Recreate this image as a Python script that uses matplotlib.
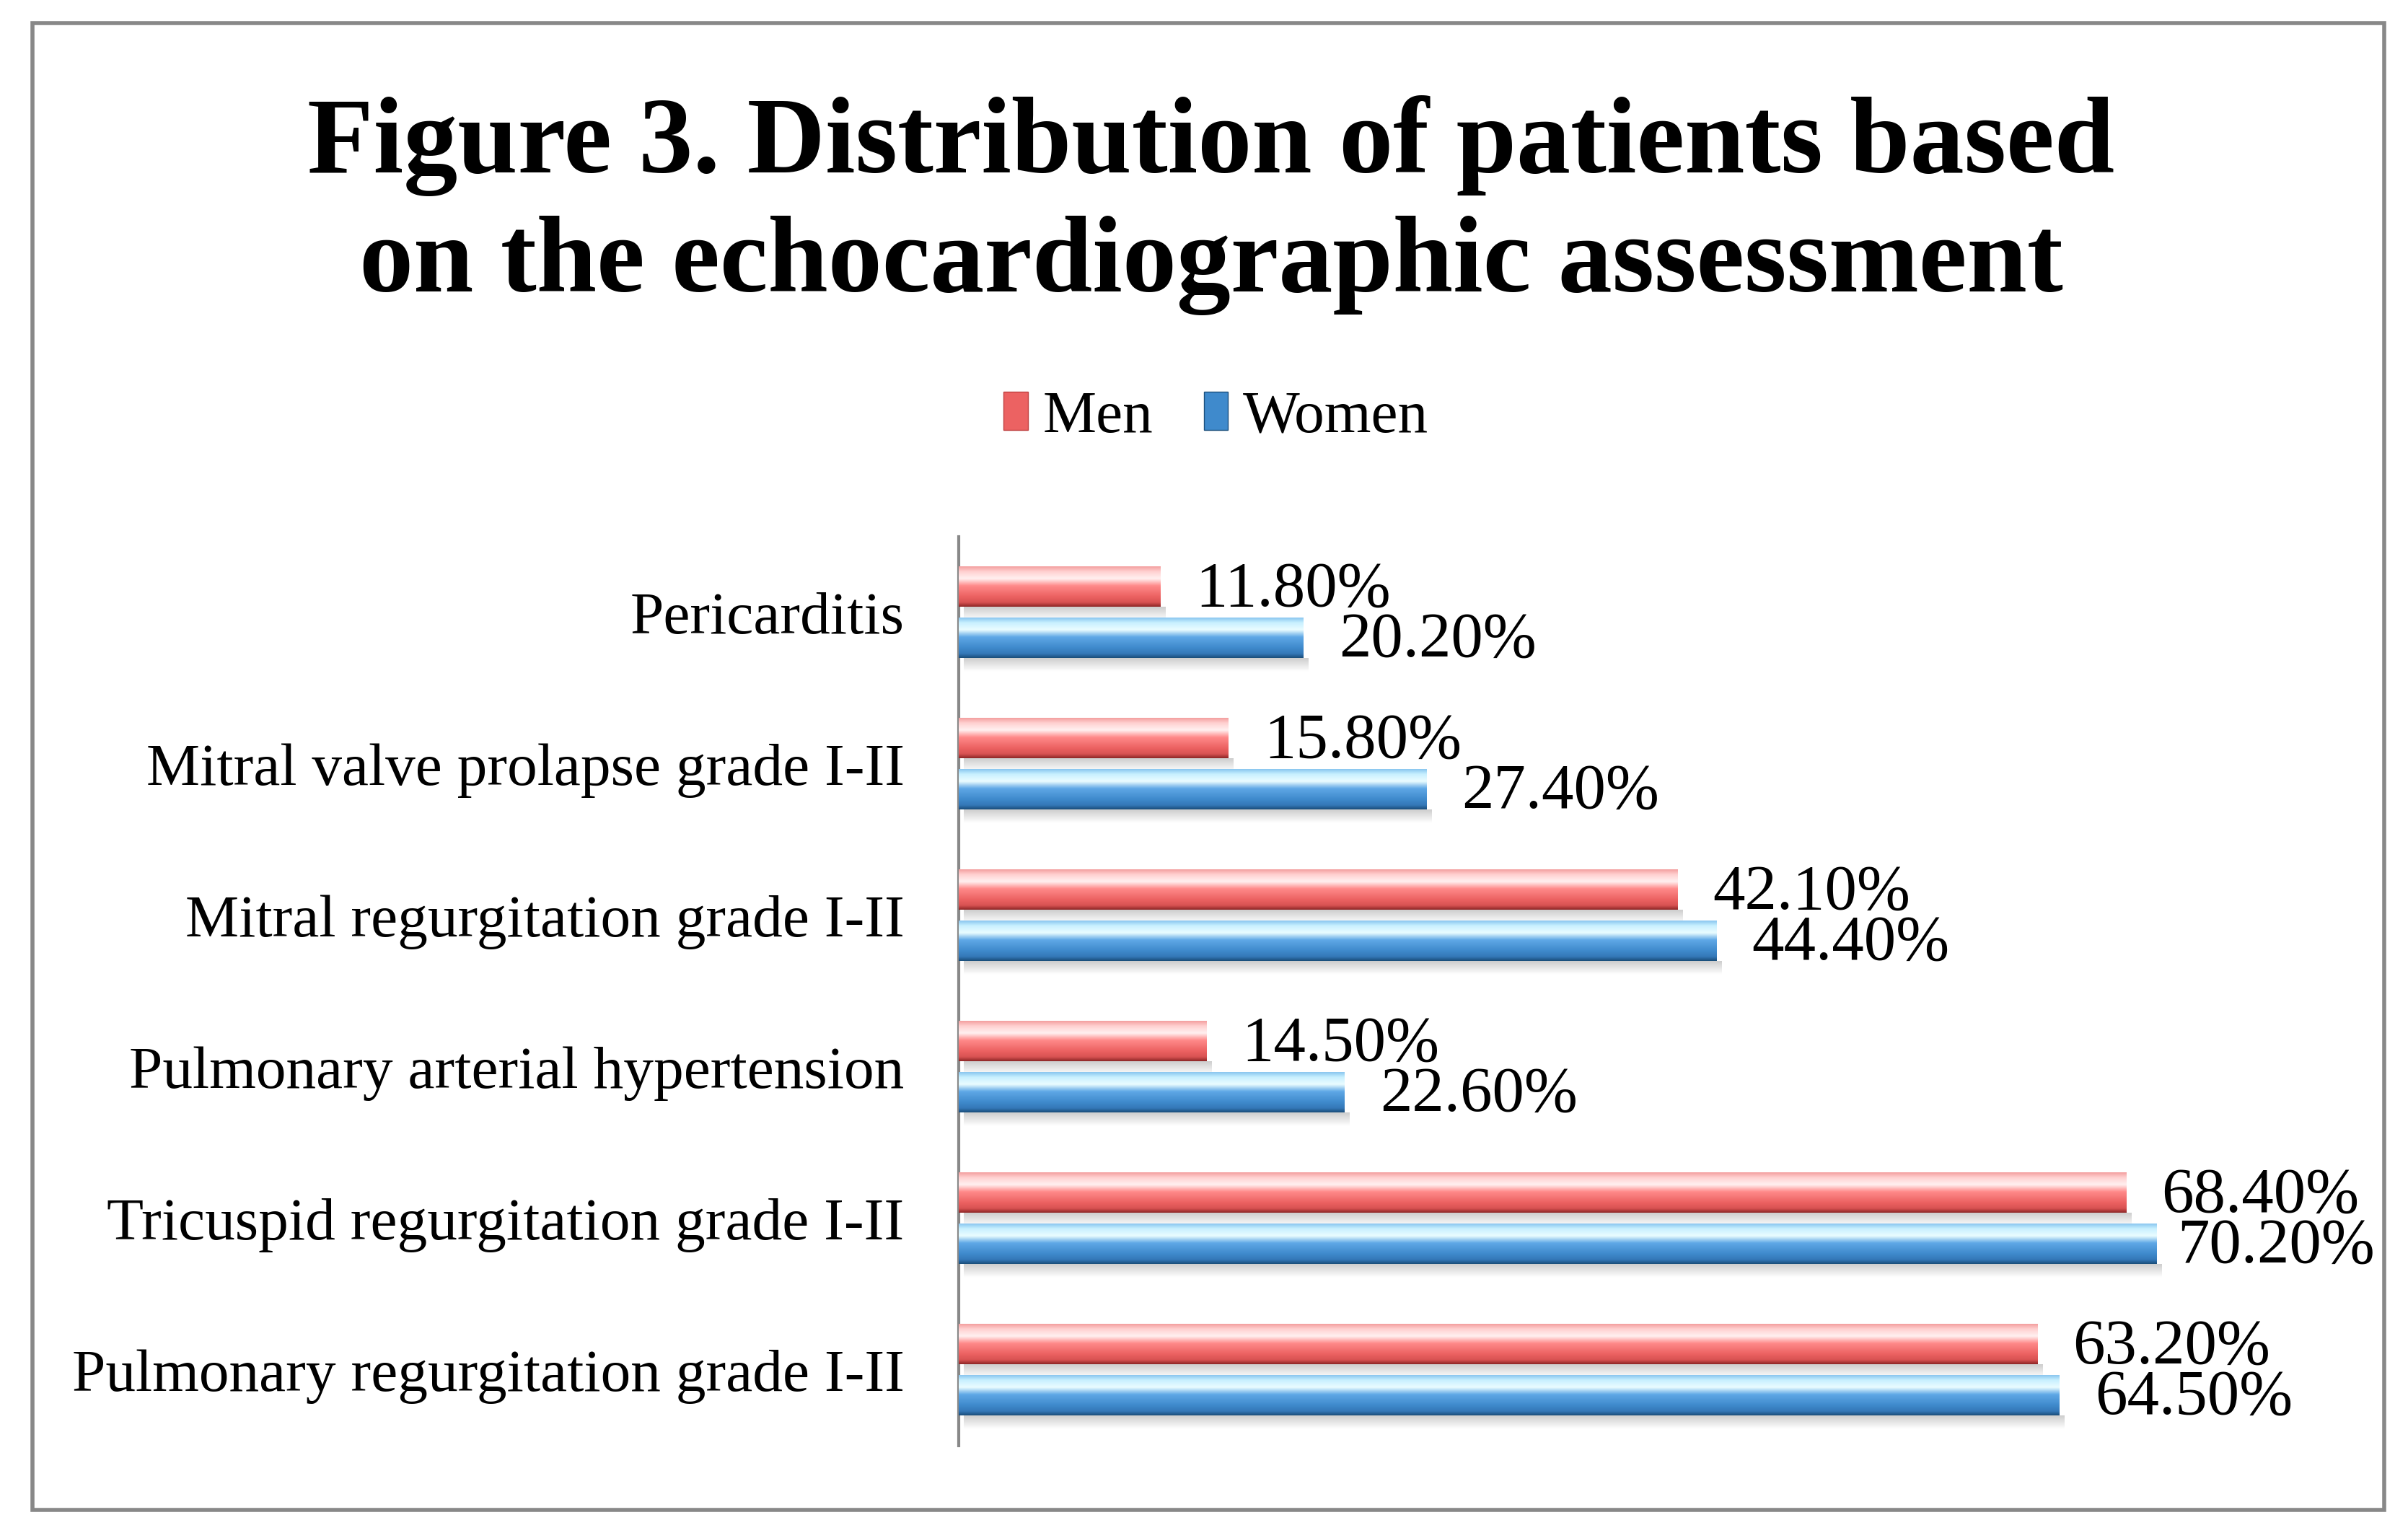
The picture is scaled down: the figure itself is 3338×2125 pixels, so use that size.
import numpy as np
import matplotlib
matplotlib.use("Agg")
import matplotlib.pyplot as plt
from matplotlib.patches import Patch, Rectangle
from matplotlib.colors import to_rgb

# data (top to bottom as in the chart)
categories = ["Pericarditis",
              "Mitral valve prolapse grade I-II",
              "Mitral regurgitation grade I-II",
              "Pulmonary arterial hypertension",
              "Tricuspid regurgitation grade I-II",
              "Pulmonary regurgitation grade I-II"]
men = [11.8, 15.8, 42.1, 14.5, 68.4, 63.2]
women = [20.2, 27.4, 44.4, 22.6, 70.2, 64.5]
series_names = ["Men", "Women"]

plt.rcParams['font.family'] = ['Liberation Serif', 'DejaVu Serif']

# glossy gradients, top -> bottom
men_stops = [(0.0, "#f4a0a0"), (0.12, "#ffd0d0"), (0.3, "#fff0f0"),
             (0.48, "#ff8a8a"), (0.75, "#ec6262"), (0.9, "#d85252"), (1.0, "#902828")]
women_stops = [(0.0, "#8cc8f0"), (0.12, "#c8f0ff"), (0.3, "#eafcff"),
               (0.48, "#5fa8e6"), (0.75, "#3f8acc"), (0.9, "#3478b8"), (1.0, "#1b4f7c")]


def gradient(stops, n=64):
    t = np.linspace(0, 1, n)
    pos = [s[0] for s in stops]
    cols = np.array([to_rgb(s[1]) for s in stops])
    out = np.zeros((n, 1, 3))
    for c in range(3):
        out[:, 0, c] = np.interp(t, pos, cols[:, c])
    return out


def glossy_bar(ax, y, w, h, stops):
    img = gradient(stops)
    ax.imshow(img, extent=(0, w, y + h / 2, y - h / 2), aspect='auto',
              interpolation='bilinear', zorder=3)
    # soft shadow below
    sh = np.zeros((32, 1, 4))
    sh[:, 0, :3] = 0.45
    sh[:, 0, 3] = np.linspace(0.35, 0.0, 32)
    ax.imshow(sh, extent=(0.3, w + 0.3, y + h / 2 + 0.09, y + h / 2), aspect='auto',
              interpolation='bilinear', zorder=2)


fig = plt.figure(figsize=(33.38, 21.25), dpi=100)
ax = fig.add_axes([0.398, 0.057, 0.567, 0.593])

bar_h = 0.265
off = 0.168
fs = 60
val_fs = 64
label_gap = 2.1
label_max = 71.4  # labels near the right edge get pushed back in
for i, (m, w) in enumerate(zip(men, women)):
    glossy_bar(ax, i - off, m, bar_h, men_stops)
    glossy_bar(ax, i + off, w, bar_h, women_stops)
    ax.text(min(m + label_gap, label_max), i - off + 0.02, f"{m:.2f}%",
            va='center', ha='left', fontsize=val_fs)
    ax.text(min(w + label_gap, label_max), i + off + 0.02, f"{w:.2f}%",
            va='center', ha='left', fontsize=val_fs)

ax.set_xlim(0, 80)
ax.set_ylim(len(categories) - 0.5, -0.5)
ax.set_yticks(range(len(categories)))
ax.set_yticklabels(categories, fontsize=fs)
ax.tick_params(axis='y', length=0, pad=54)
ax.set_xticks([])
for s in ['top', 'right', 'bottom']:
    ax.spines[s].set_visible(False)
ax.spines['left'].set_color('#888888')
ax.spines['left'].set_linewidth(3)

# title, two lines
fig.text(0.503, 0.8875, "Figure 3. Distribution of patients based",
         ha='center', va='baseline', fontsize=108, fontweight='bold')
fig.text(0.503, 0.810, "on the echocardiographic assessment",
         ha='center', va='baseline', fontsize=108, fontweight='bold')

# legend
handles = [Patch(facecolor="#ec6262", edgecolor="#c04040", label=series_names[0]),
           Patch(facecolor="#3f8acc", edgecolor="#1b4f7c", label=series_names[1])]
fig.legend(handles=handles, loc='center', bbox_to_anchor=(0.505, 0.7275), ncol=2,
           frameon=False, fontsize=fs, handlelength=0.4, handleheight=0.6,
           handletextpad=0.25, columnspacing=0.85)

# outer frame
fig.patches.append(Rectangle((0.0135, 0.015), 0.9765, 0.97, transform=fig.transFigure,
                             fill=False, edgecolor='#888888', linewidth=4))

fig.savefig("out.png", dpi=100)
